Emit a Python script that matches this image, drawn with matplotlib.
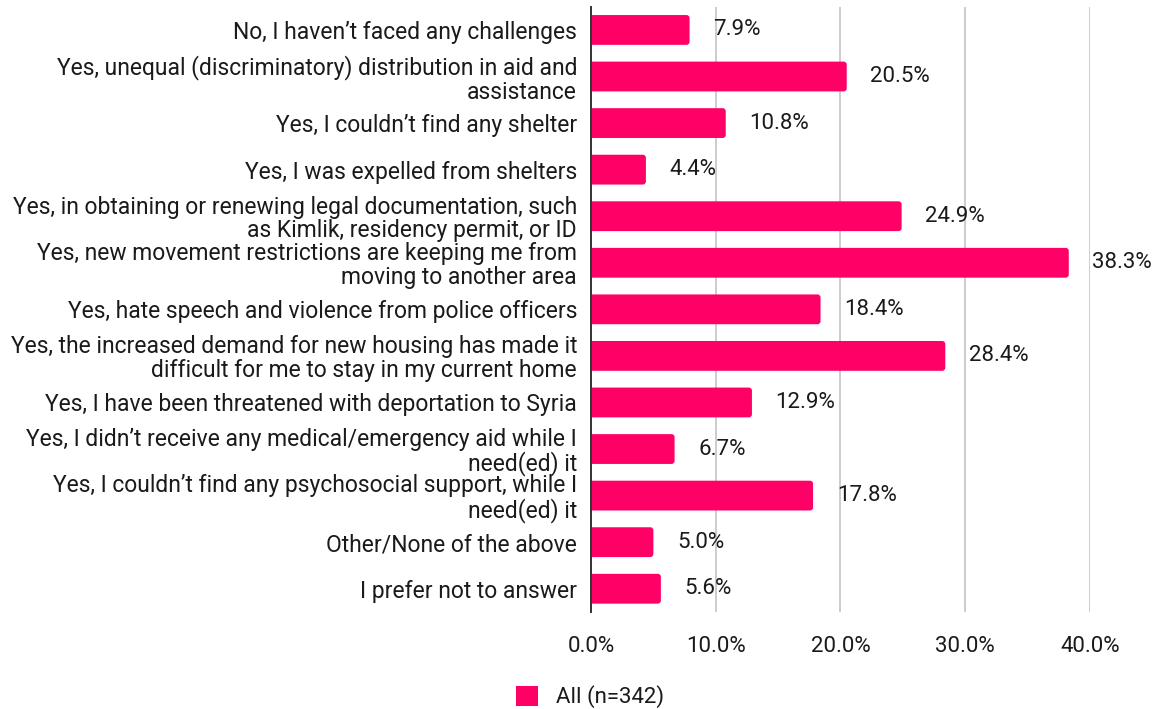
import matplotlib.pyplot as plt
from matplotlib.ticker import FuncFormatter
from matplotlib.patches import FancyBboxPatch, Patch

plt.rcParams['font.family'] = ['Roboto', 'DejaVu Sans']

categories = [
    "No, I haven\u2019t faced any challenges",
    "Yes, unequal (discriminatory) distribution in aid and\nassistance",
    "Yes, I couldn\u2019t find any shelter",
    "Yes, I was expelled from shelters",
    "Yes, in obtaining or renewing legal documentation, such\nas Kimlik, residency permit, or ID",
    "Yes, new movement restrictions are keeping me from\nmoving to another area",
    "Yes, hate speech and violence from police officers",
    "Yes, the increased demand for new housing has made it\ndifficult for me to stay in my current home",
    "Yes, I have been threatened with deportation to Syria",
    "Yes, I didn\u2019t receive any medical/emergency aid while I\nneed(ed) it",
    "Yes, I couldn\u2019t find any psychosocial support, while I\nneed(ed) it",
    "Other/None of the above",
    "I prefer not to answer",
]
values = [7.9, 20.5, 10.8, 4.4, 24.9, 38.3, 18.4, 28.4, 12.9, 6.7, 17.8, 5.0, 5.6]
series_name = "All (n=342)"
xticks = [0, 10, 20, 30, 40]

color = '#FF0066'
text_color = '#1a1a1a'
fs = 16

fig = plt.figure(figsize=(11.55, 7.09), dpi=100)
ax = fig.add_axes([0.5117, 0.1368, 0.4320, 0.8538])

pos = list(range(len(categories)))
bars = ax.barh(pos, values, height=0.64, color=color, zorder=3)

# swap the plain rectangles for ones with slightly rounded corners
for rect in bars:
    x, y = rect.get_x(), rect.get_y()
    w, h = rect.get_width(), rect.get_height()
    rect.set_visible(False)
    box = FancyBboxPatch((x - 0.4, y), w + 0.4, h,
                         boxstyle="round,pad=0,rounding_size=0.25",
                         mutation_aspect=0.26, facecolor=color,
                         edgecolor='none', zorder=3, clip_on=True)
    ax.add_patch(box)

for p, v in zip(pos, values):
    ax.text(v + 1.9, p, f"{v:.1f}%", va='center', ha='left',
            fontsize=fs, color=text_color, zorder=4)

ax.set_yticks(pos)
ax.set_yticklabels(categories, fontsize=16.5, color=text_color, ha='right',
                   linespacing=1.03)
ax.set_ylim(len(categories) - 0.5, -0.5)

ax.set_xlim(0, 40)
ax.set_xticks(xticks)
ax.xaxis.set_major_formatter(FuncFormatter(lambda x, _: f"{x:.1f}%"))
ax.tick_params(axis='x', length=0, pad=17, labelsize=fs, labelcolor=text_color)
ax.tick_params(axis='y', length=0, pad=10)
ax.grid(axis='x', color='#cccccc', linewidth=1.4, zorder=0)

for s in ['top', 'right', 'bottom']:
    ax.spines[s].set_visible(False)
ax.spines['left'].set_color('#333333')
ax.spines['left'].set_linewidth(1.4)
ax.spines['left'].set_zorder(5)

handle = Patch(facecolor=color, edgecolor='none', label=series_name)
fig.legend(handles=[handle], loc='center',
           bbox_to_anchor=(590 / 1155, 1 - 697 / 709),
           frameon=False, fontsize=fs, handlelength=1.0, handleheight=1.0,
           handletextpad=0.8, labelcolor=text_color)

fig.savefig('out.png', dpi=100)
